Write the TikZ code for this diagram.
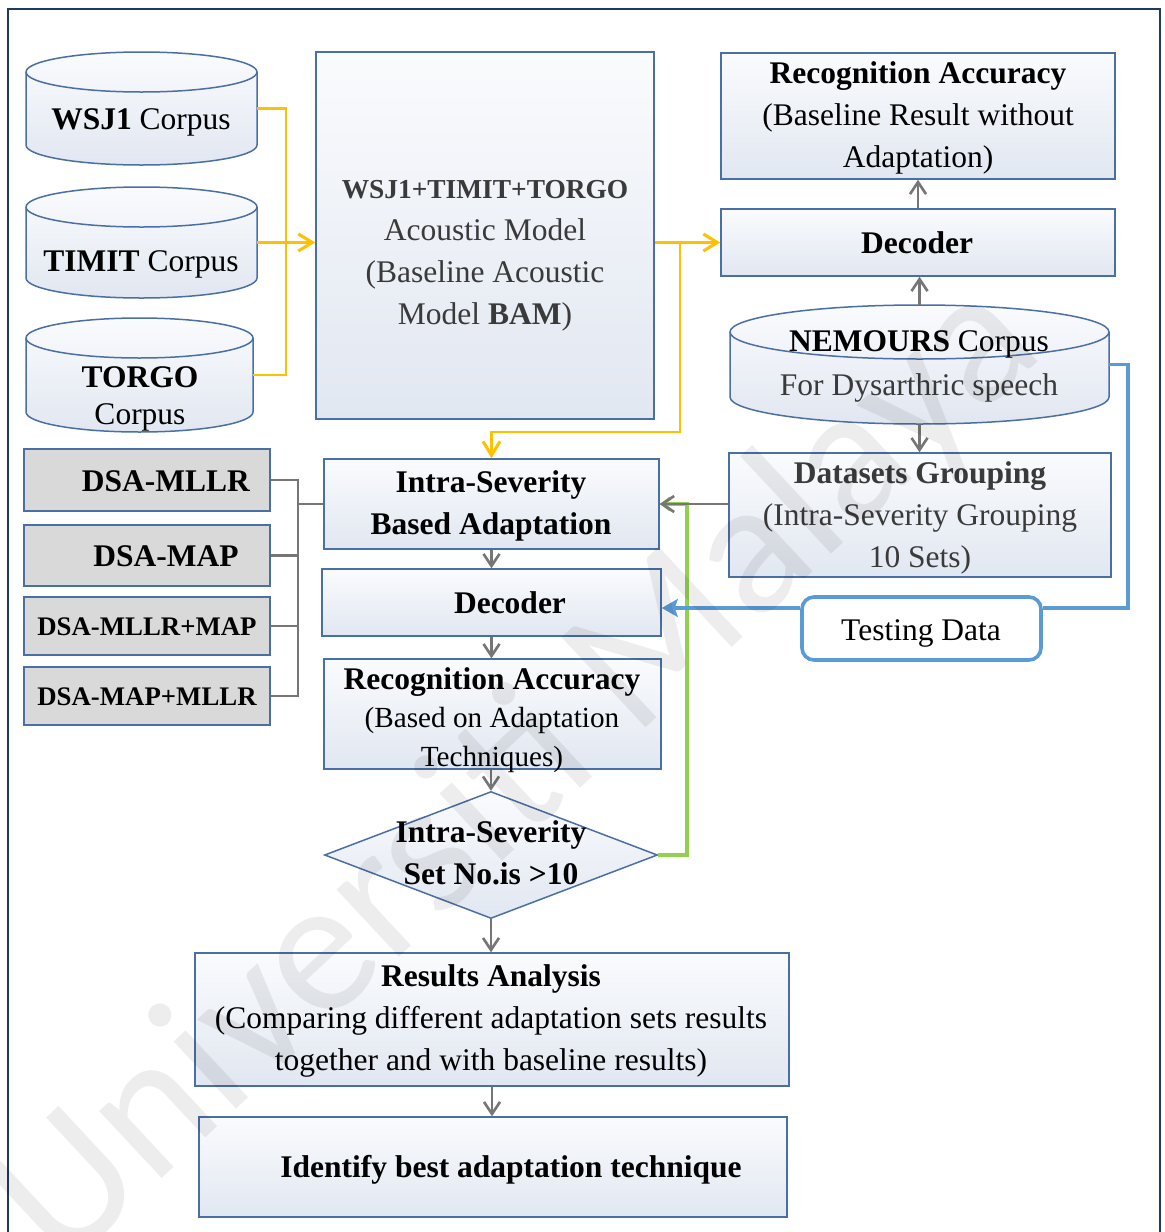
\documentclass[tikz,border=0pt]{standalone}
\usepackage{fontspec}
\setmainfont{Liberation Serif}
\newfontfamily\wmfont{Carlito}
\usetikzlibrary{arrows.meta,shapes.geometric,fit,calc}

\definecolor{frameblue}{HTML}{1F3864}
\definecolor{edgeblue}{HTML}{4A6FA5}
\definecolor{filltop}{HTML}{FAFBFD}
\definecolor{fillbot}{HTML}{E1E7F1}
\definecolor{boxgray}{HTML}{D9D9D9}
\definecolor{linegray}{HTML}{767676}
\definecolor{gold}{HTML}{FFC000}
\definecolor{skyblue}{HTML}{5B9BD5}
\definecolor{leaf}{HTML}{92D050}
\definecolor{softink}{HTML}{3A3A3A}

% drum (database) outline: x1 y1 x2 y2 ry
\newcommand\drumshape[5]{%
  \pgfmathsetmacro\drumrx{(#3-#1)/2}%
  \shadedraw[draw=edgeblue, line width=0.75pt, top color=filltop, bottom color=fillbot]
    (#1,#2+#5) -- (#1,#4-#5)
    arc[start angle=180, end angle=0, x radius=\drumrx, y radius=#5]
    -- (#3,#2+#5)
    arc[start angle=360, end angle=180, x radius=\drumrx, y radius=#5] -- cycle;
  \draw[edgeblue, line width=0.75pt] (#1,#2+#5)
    arc[start angle=180, end angle=0, x radius=\drumrx, y radius=#5];
}

\begin{document}
\begin{tikzpicture}[x=0.5pt, y=-0.5pt,
  panel/.style={draw=edgeblue, line width=0.75pt, top color=filltop, bottom color=fillbot, inner sep=0pt},
  graypanel/.style={draw=edgeblue, line width=0.75pt, fill=boxgray, inner sep=0pt},
  holder/.style={inner sep=0pt},
  txt/.style={align=center, inner sep=0pt, font=\fontsize{15.75}{21}\selectfont},
  smalltxt/.style={align=center, inner sep=0pt, font=\fontsize{13.4}{17}\selectfont\bfseries},
  grayline/.style={draw=linegray, line width=1.4pt},
  grayarrow/.style={grayline, -{Straight Barb[length=6pt, width=8pt, line width=1.3pt]}},
  goldline/.style={draw=gold, line width=1.4pt},
  goldarrow/.style={goldline, -{Straight Barb[length=7pt, width=8.5pt, line width=1.5pt]}},
  blueline/.style={draw=skyblue, line width=1.8pt},
  bluearrow/.style={blueline, -{Stealth[length=8pt, width=9pt, inset=1.5pt]}},
  greenarrow/.style={draw=leaf, line width=1.6pt, -{Straight Barb[length=4pt, width=6pt]}},
]
\useasboundingbox (0,0) rectangle (1165,1232);
\fill[white] (0,0) rectangle (1165,1232);

% outer frame, open at the foot of the page
\draw[frameblue, line width=1.1pt] (8,1240) -- (8,9) -- (1160,9) -- (1160,1240);

% ---- corpora ----
\drumshape{26}{52}{257}{165}{20}
\node[holder, fit={(26,52) (257,165)}] (wsj) {};
\node[txt] (wsj-t) at (141,122) {\textbf{WSJ1} Corpus};

\drumshape{26}{187}{257}{298}{20}
\node[holder, fit={(26,187) (257,298)}] (timit) {};
\node[txt] (timit-t) at (141,264) {\textbf{TIMIT} Corpus};

\drumshape{26}{318}{253}{432}{20}
\node[holder, fit={(26,318) (253,432)}] (torgo) {};
\node[txt, font=\fontsize{15.75}{18.5}\selectfont] (torgo-t) at (140,399) {\textbf{TORGO}\\Corpus};

\drumshape{730}{305}{1109}{424}{27}
\node[holder, fit={(730,305) (1109,424)}] (nem) {};
\node[txt, font=\fontsize{15.75}{22}\selectfont] (nem-t) at (919,366) {\textbf{NEMOURS} Corpus\\\textcolor{softink}{For Dysarthric speech}};

% ---- baseline branch ----
\node[panel, fit={(316,52) (654,419)}] (bam) {};
\node[txt, text=softink] (bam-t) at (485,256)
  {{\fontsize{13.7}{21}\selectfont\bfseries WSJ1+TIMIT+TORGO}\\Acoustic Model\\(Baseline Acoustic\\Model \textbf{BAM})};

\node[panel, fit={(721,53) (1115,179)}] (ra1) {};
\node[txt] (ra1-t) at (918,118) {\textbf{Recognition Accuracy}\\(Baseline Result without\\Adaptation)};

\node[panel, fit={(721,209) (1115,276)}] (dec1) {};
\node[txt] (dec1-t) at (917,243) {\textbf{Decoder}};

\node[panel, fit={(729,453) (1111,577)}] (group) {};
\node[txt, text=softink] (group-t) at (920,518) {\textbf{Datasets Grouping}\\(Intra-Severity Grouping\\10 Sets)};

\node[draw=skyblue, line width=1.8pt, fill=white, rounded corners=6pt, inner sep=0pt,
      fit={(802,597) (1041,660)}] (test) {};
\node[txt] (test-t) at (921,633) {Testing Data};

% ---- adaptation techniques ----
\node[graypanel, fit={(24,449) (270,511)}] (mllr) {};
\node[txt] (mllr-t) at (166,481) {\textbf{DSA-MLLR}};
\node[graypanel, fit={(24,525) (270,586)}] (map) {};
\node[txt] (map-t) at (166,556) {\textbf{DSA-MAP}};
\node[graypanel, fit={(24,597) (270,655)}] (mllrmap) {};
\node[smalltxt] (mllrmap-t) at (147,627) {DSA-MLLR+MAP};
\node[graypanel, fit={(24,667) (270,725)}] (mapmllr) {};
\node[smalltxt] (mapmllr-t) at (147,697) {DSA-MAP+MLLR};

% ---- adaptation flow ----
\node[panel, fit={(324,459) (659,549)}] (intra) {};
\node[txt] (intra-t) at (491,506) {\textbf{Intra-Severity}\\\textbf{Based Adaptation}};

\node[panel, fit={(322,569) (661,636)}] (dec2) {};
\node[txt] (dec2-t) at (510,603) {\textbf{Decoder}};

\node[panel, fit={(324,659) (661,769)}] (ra2) {};
\node[txt, font=\fontsize{14.6}{19.3}\selectfont] (ra2-t) at (492,720)
  {{\fontsize{15.75}{19.3}\selectfont\bfseries Recognition Accuracy}\\(Based on Adaptation\\Techniques)};

\node[diamond, draw=edgeblue, line width=0.75pt, top color=filltop, bottom color=fillbot,
      inner sep=0pt, minimum width=166.5pt, minimum height=63.5pt] (dia) at (491,855) {};
\node[txt] (dia-t) at (491,853) {\textbf{Intra-Severity}\\\textbf{Set No.is >10}};

\node[panel, fit={(195,953) (789,1086)}] (res) {};
\node[txt] (res-t) at (491,1021) {\textbf{Results Analysis}\\(Comparing different adaptation sets results\\together and with baseline results)};

\node[panel, fit={(199,1117) (787,1217)}] (ident) {};
\node[txt] (ident-t) at (511,1170) {\textbf{Identify best adaptation technique}};

% ---- routing points ----
\coordinate (bus) at (298,0);
\coordinate (ymerge) at (286,0);
\coordinate (ysplit) at (680,432);
\coordinate (bturn) at (1128,0);
\coordinate (bluey) at (0,608);
\coordinate (gturn) at (687,0);

% technique bus into the adaptation box
\draw[grayline] (mllr.east) -- (mllr.east -| bus) -- (mapmllr.east -| bus) -- (mapmllr.east);
\draw[grayline] (map.east) -- (map.east -| bus);
\draw[grayline] (mllrmap.east) -- (mllrmap.east -| bus);
\draw[grayline] (intra.west) -- (intra.west -| bus);

% corpora into the acoustic model
\draw[goldline] (wsj.east) -- (wsj.east -| ymerge) -- (torgo.east -| ymerge) -- (torgo.east);
\draw[goldarrow] (timit.east) -- (bam.west |- timit.east);
\draw[goldarrow] (bam.east |- dec1.west) -- (dec1.west);
\draw[goldarrow] (bam.east |- dec1.west) -- (ysplit |- dec1.west) -- (ysplit) -- (intra.north |- ysplit) -- (intra.north);

% loop back from the decision
\draw[greenarrow] (dia.east) -- (gturn |- dia.east) -- (gturn |- intra.east) -- (intra.east);

% testing data
\draw[blueline] (nem.east) -- (nem.east -| bturn) -- (bturn |- bluey) -- (test.east |- bluey);
\draw[bluearrow] (test.west |- bluey) -- (dec2.east |- bluey);

% grey flow arrows
\draw[grayarrow] (dec1.north) -- (ra1.south);
\draw[grayarrow] (nem.north) -- (nem.north |- dec1.south);
\draw[grayarrow] (nem.south) -- (nem.south |- group.north);
\draw[grayarrow] (group.west |- intra.east) -- (intra.east);
\draw[grayarrow] (intra.south) -- (intra.south |- dec2.north);
\draw[grayarrow] (dec2.south) -- (dec2.south |- ra2.north);
\draw[grayarrow] (dia.north |- ra2.south) -- (dia.north);
\draw[grayarrow] (dia.south) -- (dia.south |- res.north);
\draw[grayarrow] (res.south) -- (res.south |- ident.north);

% institutional watermark
\node[rotate=43, text=black, text opacity=0.07, inner sep=0pt,
      font=\wmfont\fontsize{96}{96}\selectfont] (mark) at (520,775) {Universiti Malaya};
\end{tikzpicture}
\end{document}
